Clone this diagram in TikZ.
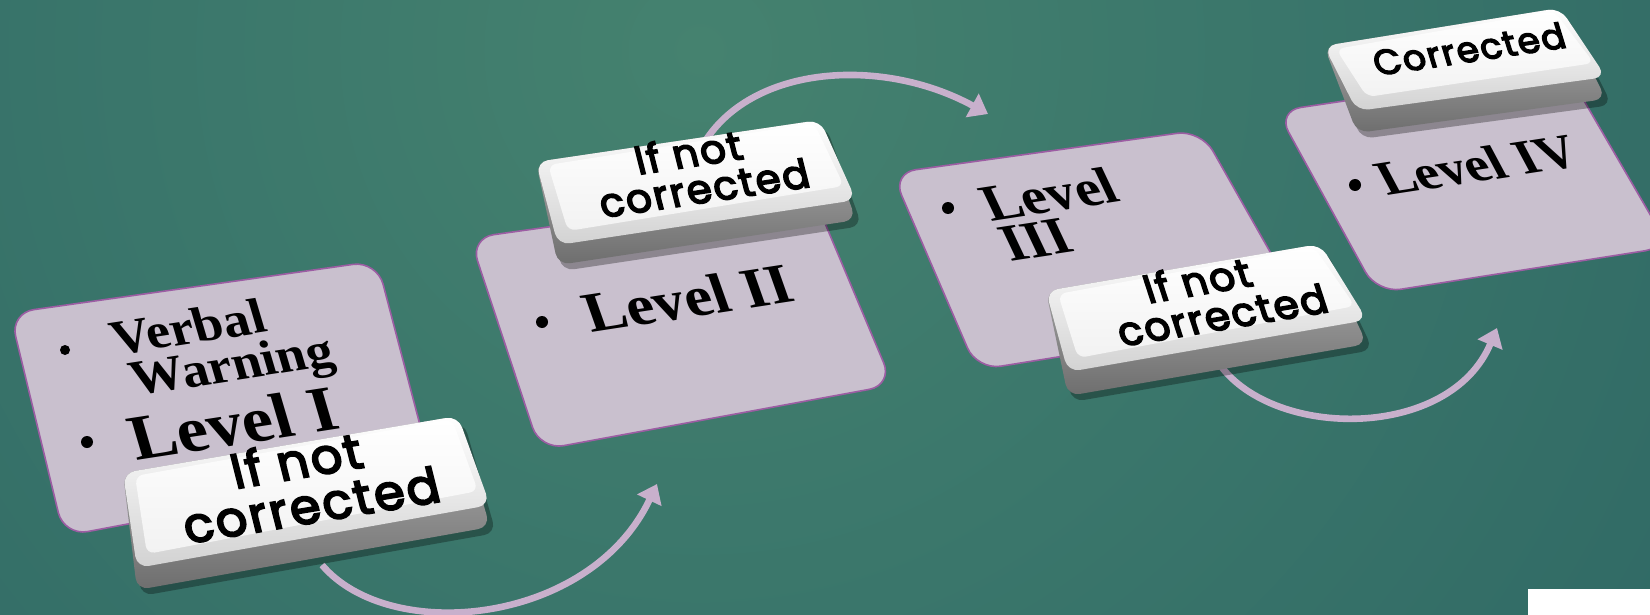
\documentclass[tikz,border=0pt]{standalone}
\usepackage{fontspec}
\setmainfont{Liberation Serif}
\newfontfamily\keyfont{Poppins}[FakeBold=4, LetterSpace=5]
\usetikzlibrary{arrows.meta,calc}
\definecolor{bgin}{HTML}{45826F}
\definecolor{bgmid}{HTML}{3A766B}
\definecolor{bgmidb}{HTML}{2C6462}
\definecolor{bgout}{HTML}{1E4D55}
\definecolor{panelfill}{HTML}{C9C0CE}
\definecolor{paneledge}{HTML}{9C5DA3}
\definecolor{arrowcol}{HTML}{C8B0CC}
\definecolor{keysidea}{HTML}{B4B4B4}
\definecolor{keysideb}{HTML}{6E6E6E}
\definecolor{keybevel}{HTML}{D2D2D2}
\definecolor{keyflat}{HTML}{F2F2F2}
\pgfdeclareradialshading{bgshade}{\pgfpoint{0bp}{0bp}}{color(0bp)=(bgin); color(9bp)=(bgmid); color(22bp)=(bgmidb); color(34bp)=(bgout); color(50bp)=(bgout)}

\newcommand\keycap[6]{%
  \coordinate (#1tl) at #2;
  \coordinate (#1tr) at #3;
  \coordinate (#1br) at #4;
  \coordinate (#1bl) at #5;
  \fill[black,opacity=0.3,rounded corners=6pt] ($(#1tl)+(4,6)$) -- ($(#1tr)+(6,6)$) -- ($(#1br)+(6,#6+6)$) -- ($(#1bl)+(4,#6+6)$) -- cycle;
  \shade[top color=keysidea,bottom color=keysideb,rounded corners=6pt] (#1tl) -- (#1tr) -- ($(#1br)+(0,#6)$) -- ($(#1bl)+(0,#6)$) -- cycle;
  \shade[top color=white,bottom color=keybevel,rounded corners=6pt] (#1tl) -- (#1tr) -- (#1br) -- (#1bl) -- cycle;
  \shade[top color=white,bottom color=keyflat,rounded corners=4pt] ($(#1tl)+(12,3)$) -- ($(#1tr)+(-6,3)$) -- ($(#1br)+(-12,-14)$) -- ($(#1bl)+(10,-14)$) -- cycle;
}

\begin{document}
\begin{tikzpicture}[x=0.5pt,y=-0.5pt,
  panel/.style={fill=panelfill, draw=paneledge, line width=0.8pt, rounded corners=12pt},
  flow/.style={draw=arrowcol, line width=3.3pt, -{Triangle[width=13pt,length=9pt]}},
  lvl/.style={inner sep=0pt, text=black, yscale=0.92},
  keytxt/.style={inner sep=0pt, text=black},
  bulletdot/.style={circle, fill=black, inner sep=0pt, minimum size=#1}]
\useasboundingbox (0,0) rectangle (1650,615);
\clip (0,0) rectangle (1650,615);
\shade[shading=bgshade] (700,50) circle (1600);

% connectors
\coordinate (a1s) at (322,565);
\coordinate (a1e) at (657,484);
\coordinate (a2s) at (700,150);
\coordinate (a2e) at (988,114);
\coordinate (a3s) at (1220,365);
\coordinate (a3e) at (1497,328);
\draw[flow] (a1s) .. controls (390,645) and (590,625) .. (a1e);
\draw[flow] (a2s) .. controls (745,65) and (880,55) .. (a2e);
\draw[flow] (a3s) .. controls (1275,440) and (1450,440) .. (a3e);

% panels
\draw[panel] (10,313) -- (377,261) -- (431,467) -- (64,536) -- cycle;
\draw[panel] (470,238) -- (811,190) -- (893,385) -- (540,450) -- cycle;
\draw[panel] (892,173) -- (1201,130) -- (1307,317) -- (977,370) -- cycle;
\draw[panel] (1277,111) -- (1565,68) -- (1669,247) -- (1377,293) -- cycle;

% panel texts
\node[bulletdot=5pt] (b1) at (65,350) {};
\node[lvl, rotate=9.5, xslant=-0.1, font=\bfseries\fontsize{27}{27}\selectfont] (t1a) at (188,327) {Verbal};
\node[lvl, rotate=9.5, xslant=-0.1, font=\bfseries\fontsize{27}{27}\selectfont] (t1b) at (233,369) {Warning};
\node[bulletdot=6pt] (b2) at (87,442) {};
\node[lvl, rotate=9.5, xslant=-0.1, font=\bfseries\fontsize{35}{35}\selectfont] (t1c) at (233,423) {Level I};

\node[bulletdot=6pt] (b3) at (542,322) {};
\node[lvl, rotate=9.5, xslant=-0.15, font=\bfseries\fontsize{31}{31}\selectfont] (t2) at (688,298) {Level II};

\node[bulletdot=6pt] (b4) at (948,208) {};
\node[lvl, rotate=9.5, xslant=-0.25, font=\bfseries\fontsize{28.5}{28.5}\selectfont] (t3a) at (1049,194) {Level};
\node[lvl, rotate=9.5, xslant=-0.25, font=\bfseries\fontsize{29}{29}\selectfont] (t3b) at (1036,240) {III};

\node[bulletdot=6pt] (b5) at (1355,185) {};
\node[lvl, rotate=9.5, xslant=-0.3, font=\bfseries\fontsize{27}{27}\selectfont] (t4) at (1477,165) {Level IV};

% keys
\keycap{ka}{(123,473)}{(458,416)}{(490,505)}{(137,568)}{22}
\keycap{kb}{(536,162)}{(820,120)}{(856,200)}{(558,245)}{20}
\keycap{kc}{(1046,291)}{(1320,244)}{(1367,320)}{(1068,372)}{24}
\keycap{kd}{(1324,46)}{(1560,8)}{(1606,77)}{(1357,111)}{22}

\node[keytxt, rotate=9.5, xslant=-0.08, font=\keyfont\fontsize{24.5}{24.5}\selectfont] (k1a) at (296,460) {If not};
\node[keytxt, rotate=9.5, xslant=-0.08, font=\keyfont\fontsize{24.5}{24.5}\selectfont] (k1b) at (311,505) {corrected};
\node[keytxt, rotate=8.5, xslant=-0.1, font=\keyfont\fontsize{20}{20}\selectfont] (k2a) at (688,152) {If not};
\node[keytxt, rotate=8.5, xslant=-0.1, font=\keyfont\fontsize{20}{20}\selectfont] (k2b) at (704,188) {corrected};
\node[keytxt, rotate=9.5, xslant=-0.15, font=\keyfont\fontsize{20}{20}\selectfont] (k3a) at (1197,280) {If not};
\node[keytxt, rotate=9.5, xslant=-0.15, font=\keyfont\fontsize{20}{20}\selectfont] (k3b) at (1222,315) {corrected};
\node[keytxt, rotate=8.5, xslant=-0.15, font=\keyfont\fontsize{17.7}{17.7}\selectfont] (k4) at (1469,49) {Corrected};

\fill[white] (1528,589) rectangle (1650,615);
\end{tikzpicture}
\end{document}
